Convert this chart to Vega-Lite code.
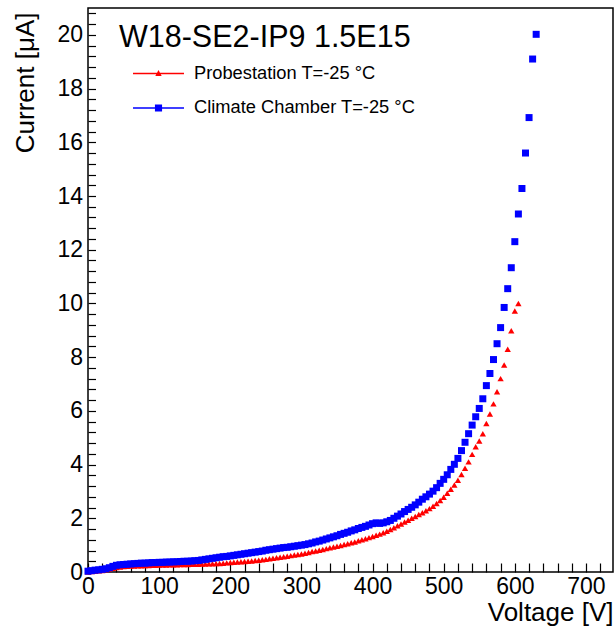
{
  "$schema": "https://vega.github.io/schema/vega-lite/v6.json",
  "width": 525,
  "height": 564,
  "autosize": "none",
  "padding": {"left": 88, "top": 8, "right": 2, "bottom": 57},
  "background": "white",
  "title": {"text": "W18-SE2-IP9 1.5E15", "anchor": "start", "frame": "group", "orient": "top", "offset": -34, "dx": 31, "dy": 41, "fontSize": 30.5, "fontWeight": "normal", "color": "#000", "font": "Liberation Sans", "baseline": "alphabetic"},
  "config": {
    "view": {"stroke": "#000", "strokeWidth": 1.5},
    "font": "Liberation Sans",
    "axis": {"grid": false, "domain": false, "tickColor": "#000", "tickWidth": 1.2, "labelColor": "#000", "titleColor": "#000", "titleFontWeight": "normal", "labelFont": "Liberation Sans", "titleFont": "Liberation Sans"},
    "legend": {"orient": "none", "title": null, "padding": 0, "symbolSize": 650, "symbolStrokeWidth": 0, "labelFontSize": 18.3, "labelFont": "Liberation Sans", "labelColor": "#000", "labelLimit": 0, "labelOffset": 22.5, "symbolOpacity": 1}
  },
  "data": {"values": [
    {"s":"P","v":0,"i":0.00},{"s":"P","v":5,"i":0.02},{"s":"P","v":10,"i":0.03},{"s":"P","v":15,"i":0.05},{"s":"P","v":20,"i":0.06},{"s":"P","v":25,"i":0.08},{"s":"P","v":30,"i":0.11},{"s":"P","v":35,"i":0.14},{"s":"P","v":40,"i":0.17},{"s":"P","v":45,"i":0.19},
    {"s":"P","v":50,"i":0.20},{"s":"P","v":55,"i":0.21},{"s":"P","v":60,"i":0.22},{"s":"P","v":65,"i":0.22},{"s":"P","v":70,"i":0.23},{"s":"P","v":75,"i":0.23},{"s":"P","v":80,"i":0.24},{"s":"P","v":85,"i":0.24},{"s":"P","v":90,"i":0.25},{"s":"P","v":95,"i":0.25},
    {"s":"P","v":100,"i":0.26},{"s":"P","v":105,"i":0.26},{"s":"P","v":110,"i":0.26},{"s":"P","v":115,"i":0.27},{"s":"P","v":120,"i":0.27},{"s":"P","v":125,"i":0.27},{"s":"P","v":130,"i":0.28},{"s":"P","v":135,"i":0.28},{"s":"P","v":140,"i":0.28},{"s":"P","v":145,"i":0.29},
    {"s":"P","v":150,"i":0.29},{"s":"P","v":155,"i":0.29},{"s":"P","v":160,"i":0.30},{"s":"P","v":165,"i":0.30},{"s":"P","v":170,"i":0.31},{"s":"P","v":175,"i":0.31},{"s":"P","v":180,"i":0.32},{"s":"P","v":185,"i":0.32},{"s":"P","v":190,"i":0.33},{"s":"P","v":195,"i":0.34},
    {"s":"P","v":200,"i":0.35},{"s":"P","v":205,"i":0.36},{"s":"P","v":210,"i":0.37},{"s":"P","v":215,"i":0.38},{"s":"P","v":220,"i":0.39},{"s":"P","v":225,"i":0.40},{"s":"P","v":230,"i":0.41},{"s":"P","v":235,"i":0.43},{"s":"P","v":240,"i":0.44},{"s":"P","v":245,"i":0.46},
    {"s":"P","v":250,"i":0.47},{"s":"P","v":255,"i":0.49},{"s":"P","v":260,"i":0.51},{"s":"P","v":265,"i":0.53},{"s":"P","v":270,"i":0.55},{"s":"P","v":275,"i":0.57},{"s":"P","v":280,"i":0.59},{"s":"P","v":285,"i":0.61},{"s":"P","v":290,"i":0.63},{"s":"P","v":295,"i":0.65},
    {"s":"P","v":300,"i":0.67},{"s":"P","v":305,"i":0.70},{"s":"P","v":310,"i":0.73},{"s":"P","v":315,"i":0.76},{"s":"P","v":320,"i":0.78},{"s":"P","v":325,"i":0.81},{"s":"P","v":330,"i":0.84},{"s":"P","v":335,"i":0.87},{"s":"P","v":340,"i":0.90},{"s":"P","v":345,"i":0.93},
    {"s":"P","v":350,"i":0.96},{"s":"P","v":355,"i":0.99},{"s":"P","v":360,"i":1.02},{"s":"P","v":365,"i":1.05},{"s":"P","v":370,"i":1.09},{"s":"P","v":375,"i":1.12},{"s":"P","v":380,"i":1.16},{"s":"P","v":385,"i":1.20},{"s":"P","v":390,"i":1.24},{"s":"P","v":395,"i":1.28},
    {"s":"P","v":400,"i":1.32},{"s":"P","v":405,"i":1.37},{"s":"P","v":410,"i":1.41},{"s":"P","v":415,"i":1.46},{"s":"P","v":420,"i":1.52},{"s":"P","v":425,"i":1.58},{"s":"P","v":430,"i":1.65},{"s":"P","v":435,"i":1.72},{"s":"P","v":440,"i":1.79},{"s":"P","v":445,"i":1.86},
    {"s":"P","v":450,"i":1.93},{"s":"P","v":455,"i":2.00},{"s":"P","v":460,"i":2.07},{"s":"P","v":465,"i":2.14},{"s":"P","v":470,"i":2.21},{"s":"P","v":475,"i":2.28},{"s":"P","v":480,"i":2.36},{"s":"P","v":485,"i":2.45},{"s":"P","v":490,"i":2.55},{"s":"P","v":495,"i":2.66},
    {"s":"P","v":500,"i":2.78},{"s":"P","v":505,"i":2.93},{"s":"P","v":510,"i":3.08},{"s":"P","v":515,"i":3.24},{"s":"P","v":520,"i":3.42},{"s":"P","v":525,"i":3.63},{"s":"P","v":530,"i":3.86},{"s":"P","v":535,"i":4.10},{"s":"P","v":540,"i":4.38},{"s":"P","v":545,"i":4.66},
    {"s":"P","v":550,"i":4.88},{"s":"P","v":555,"i":5.15},{"s":"P","v":560,"i":5.53},{"s":"P","v":565,"i":5.88},{"s":"P","v":570,"i":6.26},{"s":"P","v":575,"i":6.71},{"s":"P","v":580,"i":7.20},{"s":"P","v":585,"i":7.71},{"s":"P","v":590,"i":8.29},{"s":"P","v":595,"i":8.98},
    {"s":"P","v":600,"i":9.72},{"s":"P","v":605,"i":10.00},
    {"s":"C","v":0,"i":0.03},{"s":"C","v":5,"i":0.05},{"s":"C","v":10,"i":0.07},{"s":"C","v":15,"i":0.08},{"s":"C","v":20,"i":0.10},{"s":"C","v":25,"i":0.12},{"s":"C","v":30,"i":0.16},{"s":"C","v":35,"i":0.21},{"s":"C","v":40,"i":0.25},{"s":"C","v":45,"i":0.27},
    {"s":"C","v":50,"i":0.28},{"s":"C","v":55,"i":0.29},{"s":"C","v":60,"i":0.30},{"s":"C","v":65,"i":0.31},{"s":"C","v":70,"i":0.32},{"s":"C","v":75,"i":0.33},{"s":"C","v":80,"i":0.33},{"s":"C","v":85,"i":0.34},{"s":"C","v":90,"i":0.35},{"s":"C","v":95,"i":0.35},
    {"s":"C","v":100,"i":0.36},{"s":"C","v":105,"i":0.36},{"s":"C","v":110,"i":0.37},{"s":"C","v":115,"i":0.37},{"s":"C","v":120,"i":0.38},{"s":"C","v":125,"i":0.38},{"s":"C","v":130,"i":0.39},{"s":"C","v":135,"i":0.40},{"s":"C","v":140,"i":0.40},{"s":"C","v":145,"i":0.41},
    {"s":"C","v":150,"i":0.42},{"s":"C","v":155,"i":0.43},{"s":"C","v":160,"i":0.45},{"s":"C","v":165,"i":0.47},{"s":"C","v":170,"i":0.49},{"s":"C","v":175,"i":0.51},{"s":"C","v":180,"i":0.53},{"s":"C","v":185,"i":0.55},{"s":"C","v":190,"i":0.57},{"s":"C","v":195,"i":0.58},
    {"s":"C","v":200,"i":0.60},{"s":"C","v":205,"i":0.62},{"s":"C","v":210,"i":0.64},{"s":"C","v":215,"i":0.66},{"s":"C","v":220,"i":0.68},{"s":"C","v":225,"i":0.70},{"s":"C","v":230,"i":0.72},{"s":"C","v":235,"i":0.74},{"s":"C","v":240,"i":0.76},{"s":"C","v":245,"i":0.78},
    {"s":"C","v":250,"i":0.81},{"s":"C","v":255,"i":0.83},{"s":"C","v":260,"i":0.85},{"s":"C","v":265,"i":0.87},{"s":"C","v":270,"i":0.89},{"s":"C","v":275,"i":0.91},{"s":"C","v":280,"i":0.92},{"s":"C","v":285,"i":0.94},{"s":"C","v":290,"i":0.96},{"s":"C","v":295,"i":0.98},
    {"s":"C","v":300,"i":1.00},{"s":"C","v":305,"i":1.02},{"s":"C","v":310,"i":1.05},{"s":"C","v":315,"i":1.08},{"s":"C","v":320,"i":1.12},{"s":"C","v":325,"i":1.15},{"s":"C","v":330,"i":1.19},{"s":"C","v":335,"i":1.23},{"s":"C","v":340,"i":1.27},{"s":"C","v":345,"i":1.31},
    {"s":"C","v":350,"i":1.35},{"s":"C","v":355,"i":1.40},{"s":"C","v":360,"i":1.44},{"s":"C","v":365,"i":1.48},{"s":"C","v":370,"i":1.53},{"s":"C","v":375,"i":1.57},{"s":"C","v":380,"i":1.62},{"s":"C","v":385,"i":1.66},{"s":"C","v":390,"i":1.70},{"s":"C","v":395,"i":1.75},
    {"s":"C","v":400,"i":1.80},{"s":"C","v":405,"i":1.83},{"s":"C","v":410,"i":1.81},{"s":"C","v":415,"i":1.83},{"s":"C","v":420,"i":1.87},{"s":"C","v":425,"i":1.92},{"s":"C","v":430,"i":2.00},{"s":"C","v":435,"i":2.08},{"s":"C","v":440,"i":2.16},{"s":"C","v":445,"i":2.25},
    {"s":"C","v":450,"i":2.33},{"s":"C","v":455,"i":2.41},{"s":"C","v":460,"i":2.50},{"s":"C","v":465,"i":2.60},{"s":"C","v":470,"i":2.71},{"s":"C","v":475,"i":2.80},{"s":"C","v":480,"i":2.90},{"s":"C","v":485,"i":3.01},{"s":"C","v":490,"i":3.14},{"s":"C","v":495,"i":3.30},
    {"s":"C","v":500,"i":3.45},{"s":"C","v":505,"i":3.62},{"s":"C","v":510,"i":3.82},{"s":"C","v":515,"i":4.01},{"s":"C","v":520,"i":4.23},{"s":"C","v":525,"i":4.52},{"s":"C","v":530,"i":4.83},{"s":"C","v":535,"i":5.15},{"s":"C","v":540,"i":5.47},{"s":"C","v":545,"i":5.78},
    {"s":"C","v":550,"i":6.09},{"s":"C","v":555,"i":6.45},{"s":"C","v":560,"i":6.94},{"s":"C","v":565,"i":7.39},{"s":"C","v":570,"i":7.91},{"s":"C","v":575,"i":8.50},{"s":"C","v":580,"i":9.10},{"s":"C","v":585,"i":9.85},{"s":"C","v":590,"i":10.55},{"s":"C","v":595,"i":11.33},
    {"s":"C","v":600,"i":12.30},{"s":"C","v":605,"i":13.33},{"s":"C","v":610,"i":14.28},{"s":"C","v":615,"i":15.60},{"s":"C","v":620,"i":16.92},{"s":"C","v":625,"i":19.10},{"s":"C","v":630,"i":20.02}
  ]},
  "encoding": {
    "x": {"field": "v", "type": "quantitative",
      "scale": {"domain": [0, 738], "nice": false, "zero": false},
      "axis": {
        "values": [0,20,40,60,80,100,120,140,160,180,200,220,240,260,280,300,320,340,360,380,400,420,440,460,480,500,520,540,560,580,600,620,640,660,680,700,720],
        "tickCount": 500, "tickSize": -9,
        "labelExpr": "datum.value % 100 === 0 ? format(datum.value, 'd') : ''",
        "labelFontSize": 23, "labelPadding": 12, "labelFlush": false, "labelOverlap": false, "labelBound": false,
        "title": "Voltage [V]", "titleFontSize": 26, "titleAlign": "right", "titleAnchor": "end", "titleX": 525, "titleY": 48, "titleBaseline": "alphabetic",
        "encode": {"ticks": {"update": {"y2": {"signal": "datum.value % 100 === 0 ? -18 : -9"}}}}
      }
    },
    "y": {"field": "i", "type": "quantitative",
      "scale": {"domain": [0, 21], "nice": false, "zero": false},
      "axis": {
        "values": [0,0.4,0.8,1.2,1.6,2,2.4,2.8,3.2,3.6,4,4.4,4.8,5.2,5.6,6,6.4,6.8,7.2,7.6,8,8.4,8.8,9.2,9.6,10,10.4,10.8,11.2,11.6,12,12.4,12.8,13.2,13.6,14,14.4,14.8,15.2,15.6,16,16.4,16.8,17.2,17.6,18,18.4,18.8,19.2,19.6,20,20.4,20.8],
        "tickCount": 500, "tickMinStep": 0.1, "tickSize": -7.5,
        "labelExpr": "datum.value % 2 === 0 ? format(datum.value, 'd') : ''",
        "labelFontSize": 23, "labelPadding": 13, "labelOverlap": false, "labelBound": false, "labelFlush": false,
        "title": "Current [μA]", "titleFontSize": 26, "titleAngle": 270, "titleAlign": "right", "titleAnchor": "end", "titleX": -50, "titleY": 4, "titleBaseline": "bottom",
        "encode": {
          "ticks": {"update": {"x2": {"signal": "datum.value % 2 === 0 ? 15 : 7.5"}}},
          "labels": {"update": {"fontSize": {"signal": "datum.value % 2 === 0 ? 23 : 0"}}}
        }
      }
    }
  },
  "layer": [
    {
      "transform": [{"filter": "datum.s === 'P'"}],
      "mark": {"type": "point", "filled": true, "opacity": 1, "strokeWidth": 0, "shape": "triangle-up", "size": 40},
      "encoding": {
        "color": {"field": "s", "type": "nominal",
          "scale": {"domain": ["P"], "range": ["#ff0000"]},
          "legend": {"legendX": 57.5, "legendY": 52.5, "symbolType": "M-2,-0.06H2V0.06H-2Z M0,-0.27L0.25,0.19H-0.25Z",
            "labelExpr": "'Probestation T=-25 °C'"}
        }
      }
    },
    {
      "transform": [{"filter": "datum.s === 'C'"}],
      "mark": {"type": "point", "filled": true, "opacity": 1, "strokeWidth": 0, "shape": "square", "size": 49},
      "encoding": {
        "color": {"field": "s", "type": "nominal",
          "scale": {"domain": ["C"], "range": ["#0000ff"]},
          "legend": {"legendX": 57.5, "legendY": 87, "symbolType": "M-2,-0.06H2V0.06H-2Z M-0.28,-0.28H0.28V0.28H-0.28Z",
            "labelExpr": "'Climate Chamber T=-25 °C'"}
        }
      }
    }
  ],
  "resolve": {"scale": {"color": "independent"}, "legend": {"color": "independent"}}
}
